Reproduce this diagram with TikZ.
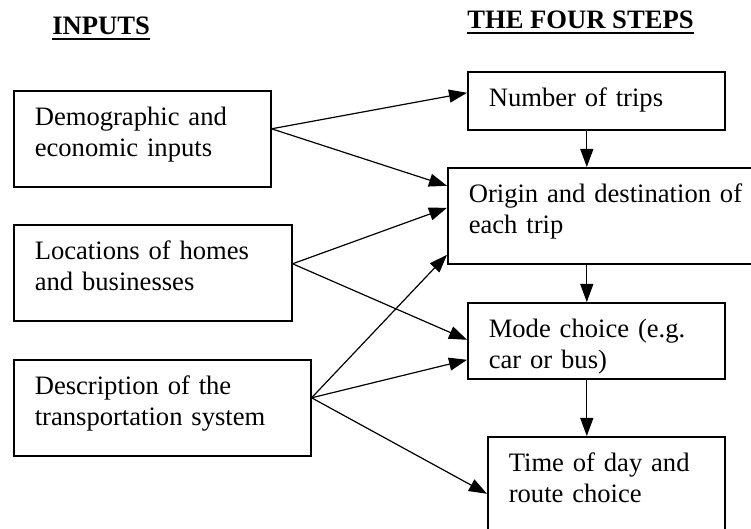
\documentclass[tikz,border=0pt]{standalone}
\usepackage{fontspec}
\setmainfont{Liberation Serif}
\usetikzlibrary{arrows.meta}

% heading with a thick rule under it
\newcommand{\ulhead}[1]{\setbox0\hbox{#1}\rlap{\rule[-2.5pt]{\wd0}{1pt}}\box0}

\begin{document}
\begin{tikzpicture}[x=0.5pt, y=-0.5pt,
    % Styles for boxes, headings and arrows
    inputbox/.style={rectangle, draw=black, line width=0.8pt, anchor=north west, align=left, inner xsep=10.5pt, inner ysep=8.5pt, text height=9pt, text depth=22pt, font=\fontsize{13.3}{15.5}\selectfont},
    stepbox/.style={inputbox},
    heading/.style={anchor=base west, inner sep=0pt, font=\fontsize{13.3}{15.5}\selectfont\bfseries},
    arrow/.style={->, >={Triangle[length=9pt, width=6.5pt]}, line width=0.6pt, black}
]
\path[use as bounding box, clip] (0,0) rectangle (751,529);

% Column headings
\node[heading] (inhead)   at (52,35)  {\ulhead{INPUTS}};
\node[heading] (stephead) at (467,29) {\ulhead{THE FOUR STEPS}};

% Inputs (left column)
\node[inputbox, text width=107.5pt] (demo) at (13,90)  {Demographic and\\economic inputs};
\node[inputbox, text width=118pt]   (loc)  at (13,224) {Locations of homes\\and businesses};
\node[inputbox, text width=127.5pt] (desc) at (13,359) {Description of the\\transportation system};

% The four steps (right column)
\node[stepbox, text width=107.5pt, text depth=3pt]  (trips) at (467,71)  {Number of trips};
\node[stepbox, text width=145.5pt]                  (od)    at (447,167) {Origin and destination of\\each trip};
\node[stepbox, text width=107.5pt, text depth=12pt] (mode)  at (467,302) {Mode choice (e.g.\\car or bus)};
\node[stepbox, text width=97.5pt]                   (time)  at (487,436) {Time of day and\\route choice};

% Inputs to the steps
\draw[arrow] ([yshift=5pt]demo.east) -- ([yshift=4pt]trips.west);
\draw[arrow] ([yshift=5pt]demo.east) -- ([yshift=15pt]od.west);
\draw[arrow] ([yshift=4.5pt]loc.east) -- ([yshift=4pt]od.west);
\draw[arrow] ([yshift=4.5pt]loc.east) -- ([yshift=0.5pt]mode.west);
\draw[arrow] ([yshift=5pt]desc.east) -- ([yshift=-19.5pt]od.west);
\draw[arrow] ([yshift=5pt]desc.east) -- ([yshift=-9.5pt]mode.west);
\draw[arrow] ([yshift=5pt]desc.east) -- ([yshift=-4.5pt]time.west);

% Step to step
\draw[arrow] ([xshift=-4.75pt]trips.south) -- ([xshift=-4.75pt]trips.south |- od.north);
\draw[arrow] ([xshift=-4.75pt]mode.north |- od.south) -- ([xshift=-4.75pt]mode.north);
\draw[arrow] ([xshift=-4.75pt]mode.south) -- ([xshift=-4.75pt]mode.south |- time.north);

\end{tikzpicture}
\end{document}
